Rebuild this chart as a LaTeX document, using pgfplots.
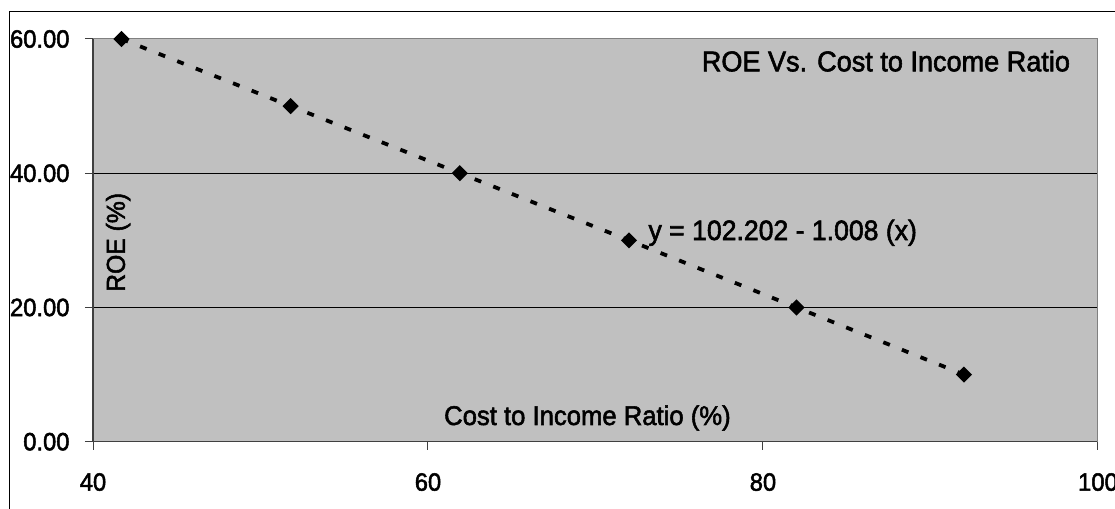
\documentclass[border=0pt]{standalone}
\usepackage{pgfplots}
\pgfplotsset{compat=1.18}
\usepackage{fontspec}
\setmainfont{Liberation Sans}[FakeStretch=0.95, FakeBold=2]
\definecolor{plotgray}{HTML}{C0C0C0}
\definecolor{framegray}{HTML}{808080}
\definecolor{axisdark}{HTML}{404040}
\begin{document}
\begin{tikzpicture}
\begin{axis}[
  at={(93bp,67.3bp)}, anchor=south west,
  scale only axis, width=1005bp, height=402.7bp,
  xmin=40, xmax=100, ymin=0, ymax=60,
  xtick={40,60,80,100}, ytick={0,20,40,60},
  axis x line*=bottom, axis y line*=left,
  axis line style={-, axisdark, line width=1.5bp},
  tick style={axisdark, line width=1bp},
  major tick length=8bp, tick align=outside,
  ymajorgrids, major grid style={black, line width=1bp},
  axis background/.style={fill=plotgray},
  /pgf/number format/assume math mode=true,
  ticklabel style={font=\fontsize{25bp}{28bp}\selectfont},
  yticklabel style={/pgf/number format/fixed, /pgf/number format/fixed zerofill, /pgf/number format/precision=2, xshift=-12bp},
  xticklabel style={yshift=-20bp},
  xlabel={Cost to Income Ratio (\%)},
  xlabel style={at={(axis cs:69.52,2.49)}, anchor=base, font=\fontsize{27bp}{30bp}\selectfont, inner sep=0pt},
  ylabel={ROE (\%)},
  ylabel style={at={(axis cs:41.5,29.7)}, anchor=center, rotate=0, font=\fontsize{26bp}{28bp}\selectfont, inner sep=0pt},
  title={ROE Vs. Cost to Income Ratio},
  title style={at={(axis cs:87.34,54.3)}, anchor=base, font=\fontsize{28.5bp}{30bp}\selectfont, inner sep=0pt},
  clip=false,
]
\addplot[black, line width=3.8bp, dash pattern=on 7bp off 13bp,
  mark=square*, mark size=3.8bp, mark options={solid, rotate=45, fill=black}]
  coordinates {(41.7,60) (51.8,50) (61.9,40) (72,30) (82,20) (92,10)};
\node[anchor=base, inner sep=0pt, font=\fontsize{28bp}{30bp}\selectfont] at (axis cs:81.18,30.05) {y = 102.202 - 1.008 (x)};
\draw[framegray, line width=1bp] (rel axis cs:0,1) -- (rel axis cs:1,1) -- (rel axis cs:1,0);
\end{axis}
\draw[black, line width=1bp] (9bp,-20bp) -- (9bp,497bp) -- (1130bp,497bp);
\pgfresetboundingbox
\useasboundingbox (0,0) rectangle (1115bp,509bp);
\end{tikzpicture}
\end{document}
